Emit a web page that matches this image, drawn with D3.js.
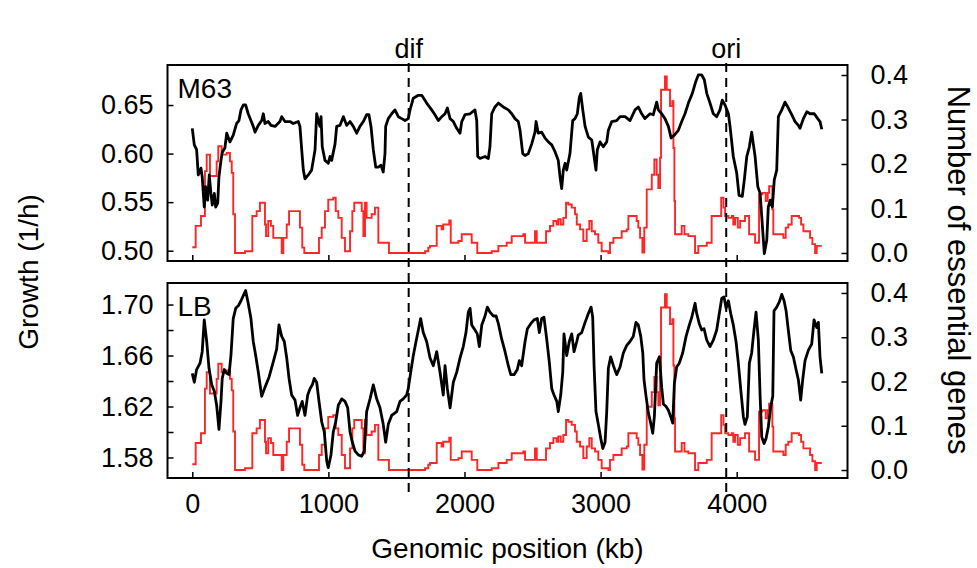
<!DOCTYPE html>
<html>
<head>
<meta charset="utf-8">
<script src="https://cdn.jsdelivr.net/npm/d3@7"></script>
<style>
  body { margin: 0; background: #fff; }
  text { font-family: "Liberation Sans", Arial, sans-serif; fill: #000; }
</style>
</head>
<body>
<div id="chart"></div>
<script>
// ---- data ----
// genomic positions in kb and growth rate (1/h), M63 medium
const m63Pos = [0, 15, 32, 44, 64, 73, 88, 98, 113, 125, 137, 147, 162, 172, 187, 196, 211, 220, 240, 253,
  277, 301, 326, 343, 358, 375, 392, 411, 431, 448, 461, 485, 510, 522, 534, 558, 578, 608, 644, 657,
  681, 718, 742, 779, 791, 804, 816, 828, 852, 877, 889, 902, 914, 926, 938, 946, 955, 975, 999, 1012,
  1024, 1049, 1061, 1085, 1110, 1135, 1159, 1183, 1208, 1232, 1257, 1281, 1298, 1313, 1330, 1348, 1367, 1387, 1403, 1416,
  1421, 1440, 1465, 1489, 1514, 1539, 1563, 1587, 1600, 1624, 1661, 1686, 1722, 1759, 1783, 1808, 1833, 1857, 1874, 1894,
  1918, 1943, 1967, 1980, 2004, 2041, 2077, 2090, 2097, 2114, 2151, 2175, 2187, 2200, 2224, 2249, 2285, 2322, 2347, 2371,
  2395, 2408, 2428, 2445, 2469, 2494, 2518, 2526, 2542, 2567, 2592, 2616, 2641, 2665, 2689, 2702, 2714, 2726, 2739, 2751,
  2775, 2795, 2812, 2829, 2844, 2854, 2869, 2886, 2910, 2935, 2952, 2966, 2976, 2996, 3020, 3045, 3057, 3082, 3118, 3143,
  3180, 3216, 3253, 3277, 3302, 3326, 3363, 3387, 3412, 3424, 3449, 3473, 3498, 3518, 3542, 3571, 3596, 3620, 3645, 3674,
  3699, 3718, 3743, 3762, 3780, 3804, 3828, 3853, 3877, 3894, 3914, 3939, 3951, 3975, 4000, 4017, 4041, 4056, 4074, 4093,
  4110, 4122, 4135, 4155, 4172, 4184, 4203, 4221, 4232, 4247, 4262, 4276, 4294, 4306, 4331, 4355, 4375, 4404, 4429, 4453,
  4465, 4490, 4515, 4539, 4570, 4595, 4612, 4625];
const m63Growth = [0.626, 0.609, 0.604, 0.578, 0.585, 0.576, 0.545, 0.566, 0.552, 0.578, 0.559, 0.547, 0.559, 0.545, 0.549, 0.576, 0.593, 0.601, 0.606, 0.621,
  0.612, 0.619, 0.631, 0.634, 0.645, 0.650, 0.650, 0.641, 0.634, 0.628, 0.622, 0.629, 0.634, 0.641, 0.631, 0.633, 0.629, 0.628, 0.633, 0.638,
  0.633, 0.633, 0.631, 0.633, 0.628, 0.604, 0.583, 0.574, 0.578, 0.583, 0.593, 0.604, 0.641, 0.634, 0.628, 0.638, 0.607, 0.593, 0.590, 0.597,
  0.593, 0.610, 0.628, 0.629, 0.638, 0.629, 0.633, 0.628, 0.621, 0.628, 0.633, 0.640, 0.640, 0.628, 0.604, 0.586, 0.586, 0.588, 0.581, 0.600,
  0.628, 0.636, 0.641, 0.645, 0.638, 0.636, 0.634, 0.636, 0.645, 0.657, 0.660, 0.660, 0.652, 0.645, 0.640, 0.634, 0.638, 0.641, 0.647, 0.636,
  0.633, 0.626, 0.621, 0.633, 0.640, 0.641, 0.645, 0.634, 0.597, 0.595, 0.597, 0.595, 0.607, 0.641, 0.648, 0.652, 0.648, 0.645, 0.641, 0.636,
  0.633, 0.624, 0.600, 0.598, 0.600, 0.610, 0.622, 0.633, 0.621, 0.622, 0.616, 0.612, 0.609, 0.602, 0.593, 0.576, 0.564, 0.583, 0.590, 0.583,
  0.600, 0.634, 0.636, 0.641, 0.658, 0.662, 0.645, 0.628, 0.617, 0.614, 0.597, 0.583, 0.604, 0.612, 0.607, 0.612, 0.624, 0.633, 0.634, 0.638,
  0.638, 0.634, 0.645, 0.648, 0.641, 0.636, 0.641, 0.640, 0.653, 0.645, 0.641, 0.636, 0.628, 0.616, 0.619, 0.624, 0.633, 0.641, 0.652, 0.662,
  0.674, 0.681, 0.681, 0.676, 0.662, 0.652, 0.641, 0.638, 0.645, 0.655, 0.650, 0.641, 0.628, 0.597, 0.580, 0.557, 0.556, 0.573, 0.597, 0.607,
  0.622, 0.610, 0.597, 0.566, 0.559, 0.535, 0.497, 0.511, 0.545, 0.552, 0.545, 0.573, 0.583, 0.638, 0.645, 0.653, 0.648, 0.640, 0.633, 0.629,
  0.626, 0.636, 0.643, 0.641, 0.641, 0.636, 0.633, 0.625];

// genomic positions in kb and growth rate (1/h), LB medium
const lbPos = [0, 15, 32, 57, 73, 88, 106, 123, 143, 162, 179, 196, 211, 220, 235, 253, 270, 284, 301, 319,
  338, 358, 375, 392, 411, 431, 448, 466, 485, 510, 534, 564, 595, 620, 637, 657, 676, 694, 711, 730,
  755, 774, 791, 808, 828, 848, 865, 882, 896, 914, 931, 951, 970, 988, 999, 1019, 1036, 1054, 1073, 1098,
  1122, 1142, 1159, 1176, 1196, 1220, 1245, 1264, 1281, 1306, 1330, 1355, 1379, 1403, 1421, 1440, 1465, 1502, 1526, 1550,
  1575, 1587, 1605, 1624, 1644, 1661, 1678, 1697, 1722, 1747, 1771, 1796, 1820, 1844, 1857, 1874, 1894, 1918, 1943, 1967,
  1991, 2011, 2028, 2041, 2053, 2077, 2094, 2109, 2127, 2151, 2168, 2187, 2212, 2232, 2249, 2273, 2298, 2322, 2340, 2364,
  2388, 2403, 2420, 2445, 2462, 2487, 2511, 2535, 2550, 2567, 2584, 2604, 2623, 2641, 2658, 2678, 2689, 2707, 2722, 2731,
  2751, 2770, 2788, 2805, 2825, 2836, 2861, 2886, 2910, 2930, 2942, 2952, 2966, 2983, 3001, 3016, 3033, 3045, 3057, 3074,
  3094, 3118, 3143, 3167, 3192, 3216, 3240, 3260, 3277, 3295, 3310, 3319, 3334, 3351, 3368, 3383, 3395, 3412, 3432, 3449,
  3461, 3481, 3498, 3515, 3530, 3542, 3559, 3578, 3603, 3628, 3652, 3670, 3694, 3706, 3725, 3743, 3760, 3780, 3804, 3828,
  3853, 3872, 3890, 3907, 3922, 3939, 3956, 3975, 3995, 4012, 4030, 4049, 4061, 4078, 4093, 4110, 4127, 4142, 4159, 4172,
  4184, 4201, 4216, 4232, 4250, 4265, 4274, 4294, 4313, 4331, 4348, 4363, 4379, 4397, 4416, 4436, 4453, 4470, 4485, 4502,
  4526, 4551, 4568, 4588, 4600, 4612, 4625];
const lbGrowth = [1.646, 1.639, 1.649, 1.654, 1.663, 1.688, 1.671, 1.650, 1.637, 1.632, 1.621, 1.602, 1.624, 1.642, 1.649, 1.646, 1.645, 1.660, 1.689, 1.697,
  1.699, 1.703, 1.707, 1.711, 1.701, 1.689, 1.671, 1.660, 1.647, 1.628, 1.635, 1.643, 1.655, 1.665, 1.684, 1.675, 1.671, 1.658, 1.642, 1.629,
  1.625, 1.613, 1.619, 1.624, 1.613, 1.629, 1.634, 1.637, 1.642, 1.639, 1.624, 1.608, 1.600, 1.577, 1.572, 1.582, 1.600, 1.608, 1.621, 1.626,
  1.624, 1.619, 1.600, 1.592, 1.585, 1.582, 1.581, 1.585, 1.616, 1.626, 1.637, 1.626, 1.619, 1.606, 1.592, 1.606, 1.613, 1.616, 1.624, 1.626,
  1.629, 1.634, 1.647, 1.660, 1.671, 1.680, 1.689, 1.678, 1.671, 1.658, 1.652, 1.663, 1.647, 1.629, 1.652, 1.634, 1.619, 1.639, 1.647, 1.658,
  1.667, 1.678, 1.694, 1.697, 1.684, 1.680, 1.677, 1.667, 1.684, 1.691, 1.698, 1.694, 1.691, 1.691, 1.685, 1.673, 1.663, 1.652, 1.645, 1.645,
  1.649, 1.656, 1.652, 1.671, 1.681, 1.685, 1.688, 1.689, 1.678, 1.689, 1.690, 1.673, 1.655, 1.634, 1.629, 1.624, 1.616, 1.629, 1.647, 1.677,
  1.660, 1.671, 1.677, 1.663, 1.671, 1.676, 1.678, 1.686, 1.693, 1.698, 1.690, 1.652, 1.616, 1.606, 1.595, 1.587, 1.592, 1.616, 1.650, 1.659,
  1.652, 1.645, 1.651, 1.662, 1.668, 1.671, 1.675, 1.686, 1.684, 1.675, 1.662, 1.641, 1.628, 1.615, 1.607, 1.599, 1.612, 1.654, 1.659, 1.635,
  1.622, 1.620, 1.617, 1.612, 1.607, 1.638, 1.651, 1.654, 1.662, 1.675, 1.684, 1.690, 1.701, 1.693, 1.685, 1.680, 1.681, 1.672, 1.667, 1.672,
  1.680, 1.693, 1.705, 1.706, 1.697, 1.703, 1.693, 1.684, 1.671, 1.654, 1.633, 1.612, 1.606, 1.612, 1.654, 1.662, 1.680, 1.694, 1.672, 1.628,
  1.596, 1.591, 1.595, 1.604, 1.620, 1.628, 1.695, 1.698, 1.702, 1.708, 1.703, 1.695, 1.680, 1.664, 1.659, 1.649, 1.641, 1.625, 1.641, 1.656,
  1.664, 1.669, 1.688, 1.682, 1.686, 1.659, 1.646];

// essential gene density (step starts in kb and level), same in both panels
const essPos = [0, 25, 64, 93, 106, 130, 179, 191, 216, 253, 277, 290, 301, 314, 387, 441, 473, 497, 534, 542,
  558, 578, 595, 657, 669, 694, 711, 791, 808, 823, 931, 951, 975, 999, 1036, 1054, 1073, 1098, 1122, 1159,
  1176, 1190, 1245, 1257, 1269, 1281, 1318, 1342, 1367, 1445, 1710, 1734, 1747, 1796, 1832, 1844, 1888, 1899, 1955, 1980,
  2053, 2094, 2200, 2249, 2310, 2347, 2432, 2445, 2518, 2531, 2599, 2628, 2653, 2677, 2689, 2707, 2726, 2746, 2763, 2788,
  2812, 2825, 2849, 2873, 2898, 2917, 2935, 2959, 2983, 3008, 3057, 3069, 3094, 3155, 3192, 3204, 3265, 3277, 3290, 3307,
  3321, 3339, 3376, 3395, 3412, 3424, 3437, 3444, 3473, 3486, 3510, 3527, 3535, 3542, 3547, 3596, 3616, 3645, 3694, 3718,
  3780, 3816, 3886, 3903, 3915, 3939, 3964, 3975, 3988, 4008, 4025, 4061, 4091, 4135, 4164, 4188, 4213, 4228, 4238, 4262,
  4269, 4343, 4360, 4379, 4404, 4458, 4473, 4490, 4539, 4556, 4576, 4588, 4625];
const essCount = [0.013, 0.061, 0.083, 0.184, 0.221, 0.173, 0.206, 0.240, 0.221, 0.225, 0.206, 0.180, 0.087, 0.0, 0.004, 0.083, 0.094, 0.113, 0.064, 0.038,
  0.072, 0.061, 0.034, 0.0, 0.034, 0.064, 0.094, 0.057, 0.012, 0.0, 0.034, 0.057, 0.094, 0.120, 0.124, 0.094, 0.079, 0.034, 0.004, 0.049,
  0.094, 0.113, 0.094, 0.038, 0.113, 0.079, 0.087, 0.102, 0.023, 0.0, 0.004, 0.012, 0.016, 0.061, 0.053, 0.064, 0.073, 0.023, 0.027, 0.042,
  0.023, 0.0, 0.004, 0.016, 0.023, 0.038, 0.042, 0.023, 0.049, 0.023, 0.049, 0.061, 0.072, 0.064, 0.076, 0.064, 0.079, 0.113, 0.109, 0.102,
  0.087, 0.064, 0.053, 0.027, 0.053, 0.072, 0.049, 0.042, 0.023, 0.004, 0.0, 0.023, 0.034, 0.049, 0.053, 0.083, 0.072, 0.057, 0.034, 0.001,
  0.057, 0.143, 0.176, 0.210, 0.176, 0.146, 0.214, 0.367, 0.397, 0.367, 0.330, 0.341, 0.236, 0.117, 0.042, 0.061, 0.042, 0.038, 0.0, 0.016,
  0.023, 0.083, 0.124, 0.102, 0.083, 0.079, 0.083, 0.064, 0.079, 0.057, 0.072, 0.083, 0.042, 0.023, 0.132, 0.135, 0.117, 0.135, 0.150, 0.098,
  0.042, 0.034, 0.057, 0.064, 0.083, 0.079, 0.064, 0.049, 0.034, 0.020, 0.0, 0.016, 0.016];

const xTicks = [0, 1000, 2000, 3000, 4000];
const markers = [{ name: "dif", pos: 1590 }, { name: "ori", pos: 3923 }];

const panels = [
  { label: "M63", pos: m63Pos, growth: m63Growth, top: 65, bottom: 261,
    gDomain: [0.4894, 0.6912], gTicks: [0.50, 0.55, 0.60, 0.65], gLabels: [0.50, 0.55, 0.60, 0.65], fmt: ".2f" },
  { label: "LB", pos: lbPos, growth: lbGrowth, top: 283, bottom: 478,
    gDomain: [1.5639, 1.7169], gTicks: [1.58, 1.60, 1.62, 1.64, 1.66, 1.68, 1.70], gLabels: [1.58, 1.62, 1.66, 1.70], fmt: ".2f" }
];
const nTicks = [0, 0.1, 0.2, 0.3, 0.4];

// ---- layout ----
const W = 977, H = 568;
const left = 167.5, right = 847.5;

const svg = d3.select("#chart").append("svg")
  .attr("width", W).attr("height", H);

const x = d3.scaleLinear().domain([-182, 4814]).range([left, right]);

const ess = essPos.map((p, i) => ({ p: p, v: essCount[i] }));

panels.forEach(function (pn, k) {
  const y = d3.scaleLinear().domain(pn.gDomain).range([pn.bottom, pn.top]);
  const yN = d3.scaleLinear().domain([-0.018, 0.4225]).range([pn.bottom, pn.top]);
  const g = svg.append("g");

  const clipId = "clip" + k;
  svg.append("clipPath").attr("id", clipId).append("rect")
    .attr("x", left).attr("y", pn.top).attr("width", right - left).attr("height", pn.bottom - pn.top);

  // red step line: essential genes
  const redLine = d3.line().curve(d3.curveStepAfter)
    .x(d => x(d.p)).y(d => yN(d.v));
  g.append("path").datum(ess)
    .attr("clip-path", `url(#${clipId})`)
    .attr("fill", "none").attr("stroke", "#ff2626").attr("stroke-width", 1.9)
    .attr("d", redLine);

  // black line: growth
  const data = pn.pos.map((p, i) => ({ p: p, v: pn.growth[i] }));
  const blackLine = d3.line().x(d => x(d.p)).y(d => y(d.v));
  g.append("path").datum(data)
    .attr("clip-path", `url(#${clipId})`)
    .attr("fill", "none").attr("stroke", "#000").attr("stroke-width", 2.8)
    .attr("stroke-linejoin", "round")
    .attr("d", blackLine);

  // left axis, ticks inside
  const ax = g.append("g").attr("transform", `translate(${left},0)`)
    .call(d3.axisLeft(y).tickValues(pn.gTicks).tickSize(-6).tickPadding(14)
      .tickFormat(d => pn.gLabels.some(l => Math.abs(l - d) < 1e-9) ? d3.format(pn.fmt)(d) : ""));
  // right axis, ticks inside
  const axR = g.append("g").attr("transform", `translate(${right},0)`)
    .call(d3.axisRight(yN).tickValues(nTicks).tickSize(-6).tickPadding(23).tickFormat(d3.format(".1f")));
  // bottom axis ticks (labels only under the lower panel)
  const axB = g.append("g").attr("transform", `translate(0,${pn.bottom})`)
    .call(d3.axisBottom(x).tickValues(xTicks).tickSize(-6).tickPadding(16)
      .tickFormat(k === 1 ? d3.format("d") : () => ""));

  [ax, axR, axB].forEach(a => {
    a.select(".domain").remove();
    a.selectAll("line").attr("stroke", "#000").attr("stroke-width", 1.5);
    a.selectAll("text").style("font-size", "27px").attr("fill", "#000");
  });

  // frame
  g.append("rect").attr("x", left).attr("y", pn.top)
    .attr("width", right - left).attr("height", pn.bottom - pn.top)
    .attr("fill", "none").attr("stroke", "#000").attr("stroke-width", 2);

  g.append("text").attr("x", left + 10).attr("y", pn.top + 33)
    .style("font-size", "28px").text(pn.label);
});

// dashed markers dif / ori
markers.forEach(function (m) {
  svg.append("line")
    .attr("x1", x(m.pos)).attr("x2", x(m.pos))
    .attr("y1", 63).attr("y2", 492)
    .attr("stroke", "#000").attr("stroke-width", 2)
    .attr("stroke-dasharray", "9,6");
  svg.append("text").attr("x", x(m.pos)).attr("y", 58)
    .attr("text-anchor", "middle").style("font-size", "27px").text(m.name);
});

// axis titles
svg.append("text").attr("x", (left + right) / 2).attr("y", 558)
  .attr("text-anchor", "middle").style("font-size", "28px").text("Genomic position (kb)");
svg.append("text").attr("transform", "translate(38,272) rotate(-90)")
  .attr("text-anchor", "middle").style("font-size", "28px").text("Growth (1/h)");
svg.append("text").attr("transform", "translate(948,270) rotate(90)")
  .attr("text-anchor", "middle").style("font-size", "31px").text("Number of essential genes");
</script>
</body>
</html>
